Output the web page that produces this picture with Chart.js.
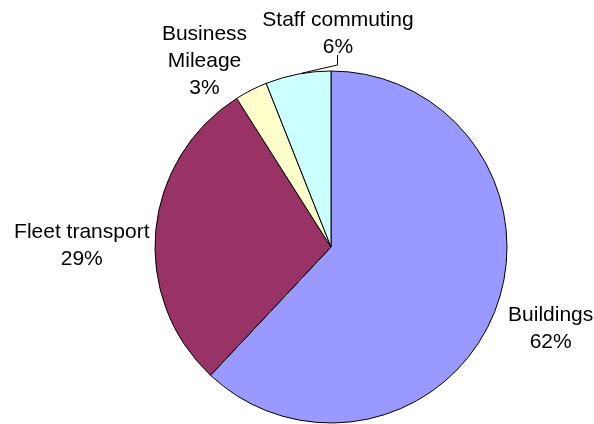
<!DOCTYPE html>
<html>
<head>
<meta charset="utf-8">
<script src="https://cdn.jsdelivr.net/npm/chart.js@4/dist/chart.umd.min.js"></script>
<style>
  html, body { margin: 0; padding: 0; background: #ffffff; }
  #wrap { width: 594px; height: 424px; position: relative; }
</style>
</head>
<body>
<div id="wrap"><canvas id="c" width="594" height="424"></canvas></div>
<script>
const categories = ['Buildings', 'Fleet transport', 'Business\nMileage', 'Staff commuting'];
const values = [62, 29, 3, 6];
const colors = ['#9999FF', '#993366', '#FFFFCC', '#CCFFFF'];

// label offsets (px) from each slice's outer-arc midpoint to the label centre
const labelOffsets = [[56, 17], [-74, 15.6], [-46.6, -29], [40, -40.6]];
const leaderLines = [false, false, false, true];

const FONT = '21px "Liberation Sans", Arial, sans-serif';
const LINE_H = 27;

const labelPlugin = {
  id: 'outsideLabels',
  afterDatasetsDraw(chart) {
    const ctx = chart.ctx;
    const meta = chart.getDatasetMeta(0);
    const total = values.reduce((a, b) => a + b, 0);
    ctx.save();
    ctx.font = FONT;
    ctx.fillStyle = '#000000';
    ctx.textAlign = 'center';
    ctx.textBaseline = 'middle';
    meta.data.forEach((arc, i) => {
      const p = arc.getProps(['x', 'y', 'startAngle', 'endAngle', 'outerRadius'], true);
      const mid = (p.startAngle + p.endAngle) / 2;
      const ax = p.x + Math.cos(mid) * p.outerRadius;
      const ay = p.y + Math.sin(mid) * p.outerRadius;
      const lines = categories[i].split('\n');
      lines.push(Math.round(values[i] / total * 100) + '%');
      const cx = ax + labelOffsets[i][0];
      const cy = ay + labelOffsets[i][1];
      const top = cy - (lines.length - 1) * LINE_H / 2;
      lines.forEach((t, k) => ctx.fillText(t, cx, top + k * LINE_H));
      if (leaderLines[i]) {
        const bottom = top + (lines.length - 1) * LINE_H + 8;
        ctx.strokeStyle = '#000000';
        ctx.lineWidth = 1;
        ctx.beginPath();
        ctx.moveTo(ax + 4, ay - 1);
        ctx.lineTo(cx - 0.5, bottom + 10);
        ctx.lineTo(cx - 0.5, bottom);
        ctx.stroke();
      }
    });
    ctx.restore();
  }
};

new Chart(document.getElementById('c'), {
  type: 'pie',
  data: {
    labels: categories,
    datasets: [{
      data: values,
      backgroundColor: colors,
      borderColor: '#000000',
      borderWidth: 1
    }]
  },
  options: {
    responsive: false,
    animation: false,
    layout: { padding: { left: 154.5, top: 70.5, right: 86.5, bottom: 0.5 } },
    plugins: {
      legend: { display: false },
      tooltip: { enabled: false }
    }
  },
  plugins: [labelPlugin]
});
</script>
</body>
</html>
